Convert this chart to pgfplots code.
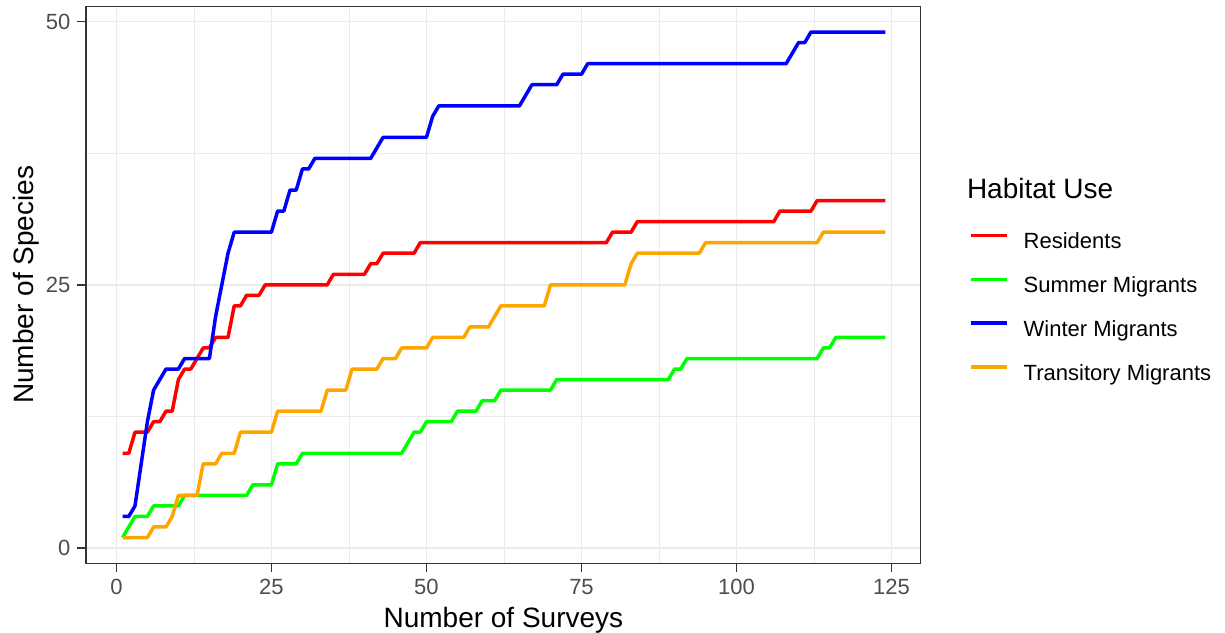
\documentclass[border=0pt]{standalone}
\usepackage{pgfplots}
\pgfplotsset{compat=1.18}
\usepackage{fontspec}
\setmainfont{Liberation Sans}
\definecolor{gg20}{HTML}{333333}
\definecolor{gg30}{HTML}{4D4D4D}
\definecolor{gg92}{HTML}{EBEBEB}
\definecolor{cRes}{HTML}{FF0000}
\definecolor{cSum}{HTML}{00FF00}
\definecolor{cWin}{HTML}{0000FF}
\definecolor{cTra}{HTML}{FFA500}
\begin{document}
\begin{tikzpicture}
\useasboundingbox (0,0) rectangle (612.5pt,316pt);
\begin{axis}[
  at={(43pt,34.35pt)}, anchor=south west,
  scale only axis, width=417.35pt, height=278.5pt,
  xmin=-4.9, xmax=129.7, ymin=-1.45, ymax=51.45,
  xtick={0,25,50,75,100,125}, ytick={0,25,50},
  minor xtick={12.5,37.5,62.5,87.5,112.5}, minor ytick={12.5,37.5},
  grid=both,
  major grid style={gg92, line width=0.8pt},
  minor grid style={gg92, line width=0.4pt},
  tick pos=left, tick align=outside,
  major tick length=4.3pt, minor tick length=0pt,
  major tick style={gg20, line width=0.7pt},
  axis line style={gg20, line width=0.7pt},
  tick label style={font=\fontsize{11}{13}\selectfont, text=gg30},
  /pgf/number format/assume math mode=true,
  legend style={at={(axis description cs:1.05787,0.59354)}, anchor=north west,
    draw=none, fill=none, inner sep=0pt, outer sep=0pt,
    row sep=11.45pt, column sep=7.6pt,
    font=\fontsize{11}{13}\selectfont,
    nodes={inner sep=0pt, text height=8pt, text depth=2.5pt}},
  legend cell align=left,
  legend image code/.code={\draw[#1] (0pt,3.9pt) -- (18pt,3.9pt);},
  every axis plot/.append style={line width=1.75pt, line join=round},
]
\addplot[cRes] coordinates {
(1,9) (2,9) (3,11) (5,11) (6,12) (7,12) (8,13) (9,13) (10,16) (11,17) (12,17)
(13,18) (14,19) (15,19) (16,20) (18,20) (19,23) (20,23) (21,24) (23,24) (24,25)
(34,25) (35,26) (40,26) (41,27) (42,27) (43,28) (48,28) (49,29) (79,29) (80,30)
(83,30) (84,31) (106,31) (107,32) (112,32) (113,33) (124,33)};
\addlegendentry{Residents}
\addplot[cSum] coordinates {
(1,1) (2,2) (3,3) (5,3) (6,4) (10,4) (11,5) (21,5) (22,6) (25,6) (26,8) (29,8)
(30,9) (46,9) (47,10) (48,11) (49,11) (50,12) (54,12) (55,13) (58,13) (59,14)
(61,14) (62,15) (70,15) (71,16) (89,16) (90,17) (91,17) (92,18) (113,18) (114,19)
(115,19) (116,20) (124,20)};
\addlegendentry{Summer Migrants}
\addplot[cWin] coordinates {
(1,3) (2,3) (3,4) (4,8) (5,12) (6,15) (7,16) (8,17) (10,17) (11,18) (15,18)
(16,22) (17,25) (18,28) (19,30) (25,30) (26,32) (27,32) (28,34) (29,34) (30,36)
(31,36) (32,37) (41,37) (42,38) (43,39) (50,39) (51,41) (52,42) (65,42) (66,43)
(67,44) (71,44) (72,45) (75,45) (76,46) (108,46) (109,47) (110,48) (111,48)
(112,49) (124,49)};
\addlegendentry{Winter Migrants}
\addplot[cTra] coordinates {
(1,1) (5,1) (6,2) (8,2) (9,3) (10,5) (13,5) (14,8) (16,8) (17,9) (19,9) (20,11)
(25,11) (26,13) (33,13) (34,15) (37,15) (38,17) (42,17) (43,18) (45,18) (46,19)
(50,19) (51,20) (56,20) (57,21) (60,21) (61,22) (62,23) (69,23) (70,25) (82,25)
(83,27) (84,28) (94,28) (95,29) (113,29) (114,30) (124,30)};
\addlegendentry{Transitory Migrants}
\end{axis}
\node[anchor=base, inner sep=0pt, font=\fontsize{14}{17}\selectfont] at (251.7pt,2.5pt) {Number of Surveys};
\node[anchor=base, rotate=90, inner sep=0pt, font=\fontsize{14}{17}\selectfont] at (16.65pt,173.6pt) {Number of Species};
\node[anchor=base west, inner sep=0pt, font=\fontsize{14}{17}\selectfont] at (483.3pt,216.85pt) {Habitat Use};
\end{tikzpicture}
\end{document}
